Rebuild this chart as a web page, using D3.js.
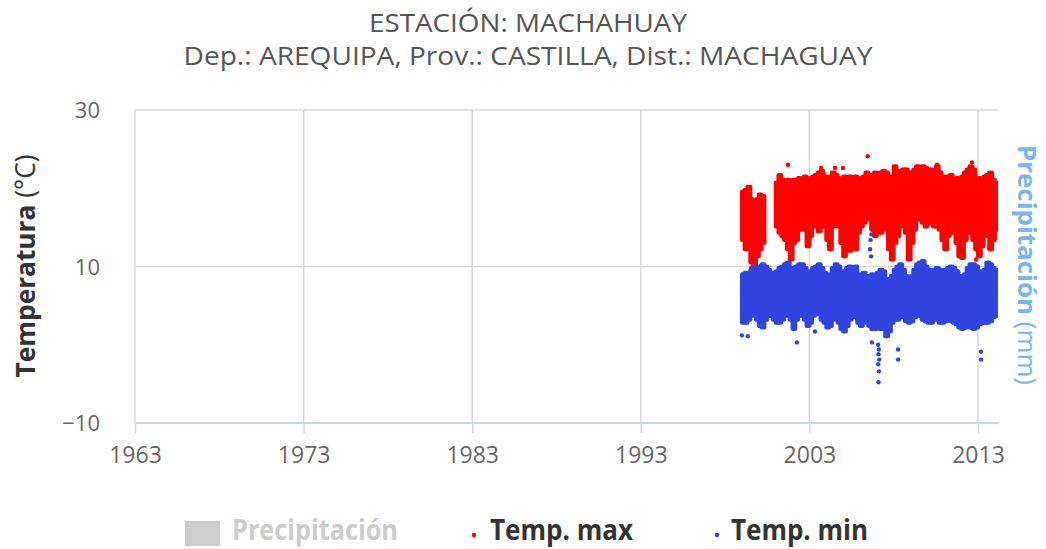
<!DOCTYPE html>
<html>
<head>
<meta charset="utf-8">
<script src="https://cdn.jsdelivr.net/npm/d3@7"></script>
<style>
  body { margin: 0; background: #fff; }
  svg { display: block; }
  text { font-family: "Open Sans", sans-serif; }
</style>
</head>
<body>
<div id="chart"></div>
<script>
// titles and axis ticks
const titleLines = ["ESTACIÓN: MACHAHUAY", "Dep.: AREQUIPA, Prov.: CASTILLA, Dist.: MACHAGUAY"]
const yearTicks = [1963, 1973, 1983, 1993, 2003, 2013]
const tempTicks = [-10, 10, 30]
const legendNames = ["Precipitación", "Temp. max", "Temp. min"]

// daily scatter summarised in two-month bins (Jan-Feb 1999 ... Mar-Apr 2014): lowest / highest value read per bin
const binStart = "1999-01"
const binMonths = 2
const tmaxHigh = [
  19.6, 19.8, 20.2, 18.6, 17.5, 18.6,
  19.2, 19.0, null, null, null, null,
  20.7, 21.7, 21.1, 20.7, 21.1, 20.7,
  21.1, 21.1, 21.3, 21.1, 21.5, 21.1,
  21.3, 21.5, 21.7, 22.0, 22.2, 21.5,
  21.3, 21.5, 22.0, 21.7, 21.3, 21.1,
  21.5, 21.3, 21.5, 21.3, 21.5, 21.1,
  21.3, 21.5, 22.0, 21.7, 21.5, 22.0,
  21.7, 22.0, 22.2, 22.0, 21.5, 21.3,
  22.8, 22.2, 22.0, 22.4, 22.4, 22.0,
  22.0, 22.4, 22.8, 22.6, 22.8, 22.6,
  22.4, 22.4, 22.0, 22.8, 22.0, 21.5,
  21.3, 21.5, 21.7, 21.1, 21.3, 21.1,
  21.5, 22.0, 22.4, 22.8, 22.4, 21.1,
  21.3, 21.1, 21.5, 21.7, 22.0, 21.1,
  20.7, 20.2
]
const tmaxLow = [
  13.4, 12.2, 14.3, 10.5, 9.4, 11.3,
  12.2, 13.0, null, null, null, null,
  15.1, 14.3, 13.9, 13.4, 12.2, 10.9,
  13.0, 13.4, 14.7, 15.6, 14.7, 12.6,
  13.9, 15.1, 15.6, 14.5, 15.1, 15.1,
  13.4, 12.2, 15.1, 15.8, 15.1, 13.0,
  11.3, 13.4, 12.0, 15.6, 12.2, 14.3,
  15.1, 15.6, 16.4, 16.0, 14.7, 13.9,
  14.7, 14.3, 15.1, 14.7, 12.2, 10.9,
  13.0, 13.9, 15.1, 16.4, 14.3, 10.9,
  13.0, 14.7, 16.0, 16.0, 15.6, 15.1,
  15.6, 15.6, 15.1, 15.1, 14.7, 13.4,
  12.2, 13.9, 14.3, 14.7, 13.0, 11.3,
  11.1, 13.4, 14.7, 14.3, 13.4, 12.2,
  11.3, 12.6, 13.9, 14.7, 12.2, 13.4,
  14.7, 15.1
]
const tminHigh = [
  9.0, 9.2, 8.8, 9.6, 10.0, 9.8,
  10.0, 10.3, 10.0, 9.6, 9.2, 9.2,
  9.4, 9.8, 10.0, 10.3, 10.5, 9.8,
  9.6, 10.0, 10.3, 10.3, 9.8, 9.2,
  9.4, 9.8, 10.0, 10.3, 9.8, 9.2,
  8.6, 9.0, 9.8, 10.3, 10.0, 9.4,
  9.2, 9.8, 10.0, 9.6, 10.0, 9.0,
  8.8, 9.2, 8.8, 8.4, 9.0, 8.8,
  9.2, 9.6, 9.4, 8.4, 7.9, 8.8,
  9.6, 10.0, 10.3, 9.6, 8.8, 8.2,
  8.8, 9.6, 10.3, 10.5, 10.7, 10.0,
  9.6, 9.6, 9.6, 9.8, 9.6, 9.4,
  9.6, 9.8, 10.0, 9.8, 9.4, 8.8,
  8.6, 9.0, 9.8, 10.3, 10.3, 10.0,
  9.4, 9.2, 9.6, 10.5, 10.3, 9.8,
  9.4, 9.6
]
const tminLow = [
  2.8, 2.8, 3.2, 3.7, 4.5, 3.2,
  2.4, 2.2, 3.2, 3.7, 3.7, 3.2,
  2.8, 2.8, 3.2, 3.7, 4.1, 3.2,
  2.0, 3.2, 3.7, 3.7, 3.2, 2.4,
  2.8, 3.7, 4.1, 3.9, 3.2, 2.8,
  2.2, 2.4, 3.2, 3.7, 2.8, 2.0,
  1.7, 2.4, 3.2, 3.5, 3.7, 2.8,
  2.4, 2.8, 3.0, 2.4, 2.0, 2.0,
  2.4, 2.0, 2.0, 1.1, 1.7, 2.8,
  3.2, 3.2, 3.7, 3.5, 3.0, 2.8,
  3.0, 3.5, 3.7, 3.7, 3.2, 3.0,
  2.8, 2.8, 3.2, 3.2, 2.8, 2.8,
  3.0, 3.2, 3.0, 2.8, 2.6, 2.2,
  2.0, 2.2, 2.4, 2.2, 2.0, 2.2,
  2.6, 2.8, 2.8, 2.8, 3.0, 3.5,
  3.7, 3.7
]

// single days that stand apart from the bands (decimal year, °C)
const tmaxOutYear = [1999.55, 2001.73, 2002.26, 2003.69, 2004.52, 2004.99, 2006.46, 2010.57, 2012.64, 2012.88]
const tmaxOutVal  = [9.8, 23.0, 10.0, 22.6, 22.6, 22.6, 24.1, 23.0, 23.3, 10.9]
const tminOutYear = [1999.0, 1999.35, 2002.26, 2003.33, 2006.60, 2006.63, 2006.66, 2006.68, 2006.71,
                     2007.08, 2007.12, 2007.10, 2007.14, 2007.08, 2007.12, 2007.10, 2008.26, 2008.26, 2013.18, 2013.18]
const tminOutVal  = [1.2, 1.1, 0.3, 1.7, 12.2, 13.4, 11.3, 14.1, 0.3,
                     0.0, -0.6, -1.2, -1.9, -2.5, -3.4, -4.8, -0.6, -1.9, -0.9, -1.9]

const width = 1046, height = 549
const plot = {left: 135, right: 998, top: 110, bottom: 423}
const red = "#ff0000", blue = "#3045e0"

const svg = d3.select("#chart").append("svg")
    .attr("width", width)
    .attr("height", height)

const x = d3.scaleTime()
    .domain([new Date(1963, 0, 1), new Date(2014, 2, 10)])
    .range([plot.left, plot.right])

const y = d3.scaleLinear()
    .domain([-10, 30])
    .range([plot.bottom, plot.top])

function decYear(v) {
  const yr = Math.floor(v)
  const a = new Date(yr, 0, 1), b = new Date(yr + 1, 0, 1)
  return new Date(+a + (v - yr) * (b - a))
}

// title
svg.selectAll(".title")
  .data(titleLines)
  .join("text")
    .attr("class", "title")
    .attr("x", 528)
    .attr("y", (d, i) => i ? 65 : 32)
    .attr("text-anchor", "middle")
    .attr("font-size", 25)
    .attr("fill", "#555")
    .attr("textLength", (d, i) => i ? 689 : 318)
    .attr("lengthAdjust", "spacingAndGlyphs")
    .text(d => d)

// gridlines
svg.append("g")
  .selectAll("line")
  .data(tempTicks.filter(d => d > -10))
  .join("line")
    .attr("x1", plot.left).attr("x2", plot.right)
    .attr("y1", d => y(d)).attr("y2", d => y(d))
    .attr("stroke", "#d9d9d9")
    .attr("stroke-width", 1.5)

svg.append("g")
  .selectAll("line")
  .data(yearTicks)
  .join("line")
    .attr("x1", d => x(new Date(d, 0, 1))).attr("x2", d => x(new Date(d, 0, 1)))
    .attr("y1", plot.top).attr("y2", plot.bottom)
    .attr("stroke", "#d9d9d9")
    .attr("stroke-width", 1.5)

// x axis
const xAxis = d3.axisBottom(x)
    .tickValues(yearTicks.map(d => new Date(d, 0, 1)))
    .tickFormat(d3.timeFormat("%Y"))
    .tickSize(10)

const xGroup = svg.append("g")
    .attr("transform", `translate(0,${plot.bottom})`)
    .call(xAxis)
xGroup.select(".domain").remove()
xGroup.selectAll(".tick line").attr("stroke", "#ccd6eb").attr("stroke-width", 1.5)
xGroup.selectAll(".tick text")
    .attr("y", 40).attr("dy", 0)
    .attr("font-size", 23)
    .attr("font-family", "Open Sans, sans-serif")
    .attr("fill", "#666")
xGroup.append("line")
    .attr("x1", plot.left).attr("x2", plot.right)
    .attr("stroke", "#ccd6eb")
    .attr("stroke-width", 2)

// y axis
const yAxis = d3.axisLeft(y)
    .tickValues(tempTicks)
    .tickFormat(d => d < 0 ? "\u2212" + Math.abs(d) : d)
    .tickSize(0)
    .tickPadding(35)

const yGroup = svg.append("g")
    .attr("transform", `translate(${plot.left},0)`)
    .call(yAxis)
yGroup.select(".domain").remove()
yGroup.selectAll(".tick text")
    .attr("dy", "0.35em")
    .attr("font-size", 22)
    .attr("font-family", "Open Sans, sans-serif")
    .attr("fill", "#666")

// axis titles
const yTitle = svg.append("text")
    .attr("transform", "translate(35,266) rotate(-90)")
    .attr("text-anchor", "middle")
    .attr("font-size", 27)
    .attr("fill", "#333")
    .attr("textLength", 223)
    .attr("lengthAdjust", "spacingAndGlyphs")
yTitle.append("tspan").attr("font-weight", "bold").text("Temperatura")
yTitle.append("tspan").text(" (°C)")

const rTitle = svg.append("text")
    .attr("transform", "translate(1018,265) rotate(90)")
    .attr("text-anchor", "middle")
    .attr("font-size", 25)
    .attr("fill", "#7cb5ec")
    .attr("textLength", 240)
    .attr("lengthAdjust", "spacingAndGlyphs")
rTitle.append("tspan").attr("font-weight", "bold").text("Precipitación")
rTitle.append("tspan").text(" (mm)")

// data bands
svg.append("clipPath").attr("id", "plot-clip")
  .append("rect")
    .attr("x", plot.left).attr("y", plot.top - 10)
    .attr("width", plot.right - plot.left).attr("height", plot.bottom - plot.top + 10)

const first = d3.timeParse("%Y-%m")(binStart)
const bins = d3.range(tmaxHigh.length).map(i => ({
  start: d3.timeMonth.offset(first, i * binMonths),
  end: d3.timeMonth.offset(first, (i + 1) * binMonths),
  tmaxHigh: tmaxHigh[i], tmaxLow: tmaxLow[i],
  tminHigh: tminHigh[i], tminLow: tminLow[i]
}))

const pad = 2
const marks = svg.append("g").attr("clip-path", "url(#plot-clip)")

function band(key, color) {
  marks.append("g")
    .selectAll("rect")
    .data(bins.filter(d => d[key + "High"] != null))
    .join("rect")
      .attr("x", d => x(d.start) - pad)
      .attr("width", d => x(d.end) - x(d.start) + 2 * pad)
      .attr("y", d => y(d[key + "High"]) - pad)
      .attr("height", d => y(d[key + "Low"]) - y(d[key + "High"]) + 2 * pad)
      .attr("rx", pad)
      .attr("fill", color)
}

function dots(years, vals, color) {
  marks.append("g")
    .selectAll("circle")
    .data(years.map((d, i) => [decYear(d), vals[i]]))
    .join("circle")
      .attr("cx", d => x(d[0]))
      .attr("cy", d => y(d[1]))
      .attr("r", 2.2)
      .attr("fill", color)
}

band("tmax", red)
dots(tmaxOutYear, tmaxOutVal, red)
band("tmin", blue)
dots(tminOutYear, tminOutVal, blue)

// legend
const legend = svg.append("g")
legend.append("rect")
    .attr("x", 185).attr("y", 521)
    .attr("width", 35).attr("height", 25)
    .attr("fill", "#cccccc")
legend.append("circle").attr("cx", 474).attr("cy", 535).attr("r", 2.2).attr("fill", red)
legend.append("circle").attr("cx", 717).attr("cy", 535).attr("r", 2.2).attr("fill", blue)

const legendX = [232, 490, 731]
const legendW = [166, 143, 137]
legend.selectAll("text")
  .data(legendNames)
  .join("text")
    .attr("x", (d, i) => legendX[i])
    .attr("y", 540)
    .attr("font-size", 28)
    .attr("font-weight", "bold")
    .attr("fill", (d, i) => i === 0 ? "#cccccc" : "#333")
    .attr("textLength", (d, i) => legendW[i])
    .attr("lengthAdjust", "spacingAndGlyphs")
    .text(d => d)
</script>
</body>
</html>
